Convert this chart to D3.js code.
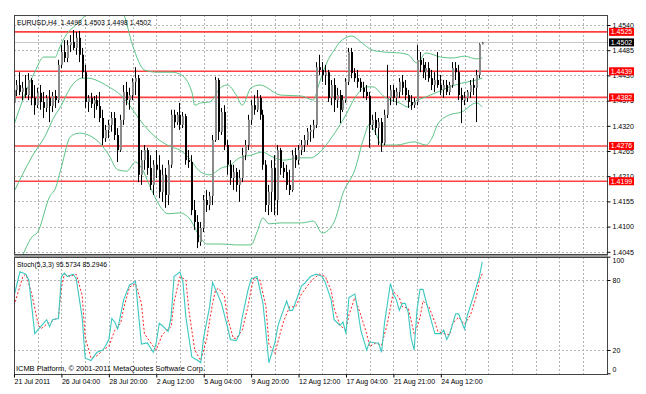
<!DOCTYPE html>
<html>
<head>
<meta charset="utf-8">
<script src="https://cdn.jsdelivr.net/npm/d3@7"></script>
<style>
  body { margin: 0; background: #fff; }
  svg text { font-family: 'Liberation Sans', Arial, sans-serif; font-size: 7px; fill: #000; }
</style>
</head>
<body>
<div id="chart"></div>
<script>
var width = 646
var height = 394
var left = 14
var right = 607
var mainTop = 15
var mainBottom = 254
var subTop = 257
var subBottom = 374

// EURUSD H4 candles
var opens = [1.4370,1.4398,1.4409,1.4394,1.4403,1.4387,1.4420,1.4381,1.4365,1.4392,
  1.4372,1.4359,1.4381,1.4363,1.4385,1.4376,1.4453,1.4481,1.4468,1.4496,
  1.4503,1.4490,1.4512,1.4475,1.4437,1.4372,1.4381,1.4368,1.4376,1.4363,
  1.4337,1.4293,1.4311,1.4322,1.4337,1.4300,1.4267,1.4333,1.4394,1.4376,
  1.4387,1.4416,1.4424,1.4213,1.4245,1.4267,1.4228,1.4191,1.4235,1.4224,
  1.4176,1.4213,1.4169,1.4235,1.4344,1.4328,1.4344,1.4322,1.4341,1.4245,
  1.4241,1.4136,1.4110,1.4066,1.4097,1.4158,1.4147,1.4167,1.4289,1.4420,
  1.4307,1.4350,1.4278,1.4235,1.4206,1.4219,1.4191,1.4206,1.4256,1.4278,
  1.4333,1.4365,1.4355,1.4381,1.4344,1.4235,1.4147,1.4176,1.4228,1.4158,
  1.4267,1.4228,1.4219,1.4191,1.4180,1.4256,1.4245,1.4267,1.4278,1.4289,
  1.4307,1.4311,1.4322,1.4448,1.4442,1.4431,1.4437,1.4381,1.4409,1.4376,
  1.4387,1.4355,1.4376,1.4416,1.4481,1.4435,1.4424,1.4416,1.4403,1.4394,
  1.4385,1.4322,1.4333,1.4315,1.4328,1.4282,1.4344,1.4381,1.4398,1.4381,
  1.4394,1.4416,1.4403,1.4387,1.4372,1.4365,1.4372,1.4464,1.4453,1.4437,
  1.4446,1.4424,1.4409,1.4420,1.4409,1.4398,1.4409,1.4394,1.4409,1.4446,
  1.4437,1.4387,1.4376,1.4381,1.4394,1.4409,1.4403,1.4431,1.4498]
var highs = [1.4407,1.4420,1.4437,1.4416,1.4431,1.4435,1.4424,1.4409,1.4403,1.4409,
  1.4394,1.4387,1.4398,1.4394,1.4398,1.4464,1.4496,1.4507,1.4507,1.4518,
  1.4529,1.4525,1.4527,1.4490,1.4453,1.4387,1.4392,1.4385,1.4387,1.4394,
  1.4355,1.4322,1.4333,1.4350,1.4350,1.4315,1.4344,1.4409,1.4416,1.4403,
  1.4424,1.4448,1.4431,1.4267,1.4278,1.4272,1.4256,1.4245,1.4267,1.4256,
  1.4235,1.4228,1.4245,1.4355,1.4355,1.4350,1.4370,1.4350,1.4346,1.4267,
  1.4256,1.4158,1.4125,1.4110,1.4169,1.4180,1.4176,1.4300,1.4427,1.4424,
  1.4359,1.4365,1.4289,1.4245,1.4235,1.4228,1.4224,1.4272,1.4289,1.4344,
  1.4376,1.4387,1.4398,1.4387,1.4355,1.4245,1.4191,1.4245,1.4256,1.4278,
  1.4272,1.4241,1.4235,1.4224,1.4267,1.4272,1.4278,1.4289,1.4300,1.4315,
  1.4322,1.4333,1.4459,1.4475,1.4459,1.4453,1.4442,1.4420,1.4424,1.4403,
  1.4398,1.4387,1.4424,1.4490,1.4490,1.4446,1.4442,1.4424,1.4416,1.4409,
  1.4394,1.4344,1.4350,1.4337,1.4337,1.4355,1.4453,1.4409,1.4409,1.4403,
  1.4424,1.4431,1.4420,1.4398,1.4387,1.4381,1.4496,1.4481,1.4468,1.4459,
  1.4459,1.4442,1.4437,1.4481,1.4431,1.4420,1.4420,1.4416,1.4459,1.4459,
  1.4453,1.4403,1.4394,1.4398,1.4420,1.4424,1.4442,1.4500,1.4503]
var lows = [1.4355,1.4385,1.4387,1.4376,1.4381,1.4376,1.4365,1.4344,1.4359,1.4355,
  1.4337,1.4350,1.4328,1.4350,1.4359,1.4370,1.4446,1.4459,1.4459,1.4481,
  1.4485,1.4475,1.4459,1.4424,1.4359,1.4350,1.4359,1.4337,1.4355,1.4328,
  1.4278,1.4285,1.4293,1.4307,1.4289,1.4241,1.4263,1.4322,1.4365,1.4355,
  1.4376,1.4387,1.4197,1.4191,1.4224,1.4213,1.4180,1.4169,1.4206,1.4162,
  1.4154,1.4141,1.4147,1.4228,1.4315,1.4322,1.4311,1.4315,1.4235,1.4228,
  1.4125,1.4093,1.4053,1.4058,1.4088,1.4132,1.4136,1.4147,1.4285,1.4289,
  1.4300,1.4267,1.4213,1.4191,1.4180,1.4176,1.4154,1.4197,1.4245,1.4267,
  1.4322,1.4344,1.4350,1.4333,1.4224,1.4132,1.4125,1.4132,1.4125,1.4125,
  1.4213,1.4206,1.4180,1.4169,1.4176,1.4228,1.4235,1.4256,1.4263,1.4278,
  1.4285,1.4293,1.4315,1.4431,1.4416,1.4409,1.4372,1.4365,1.4350,1.4359,
  1.4326,1.4350,1.4370,1.4409,1.4424,1.4416,1.4403,1.4394,1.4381,1.4376,
  1.4272,1.4311,1.4300,1.4278,1.4263,1.4278,1.4337,1.4365,1.4372,1.4365,
  1.4381,1.4387,1.4376,1.4359,1.4355,1.4359,1.4365,1.4437,1.4424,1.4420,
  1.4416,1.4398,1.4394,1.4403,1.4387,1.4381,1.4387,1.4387,1.4403,1.4420,
  1.4376,1.4326,1.4365,1.4372,1.4381,1.4387,1.4328,1.4424,1.4498]
var closes = [1.4398,1.4409,1.4394,1.4403,1.4387,1.4420,1.4381,1.4365,1.4392,1.4372,
  1.4359,1.4381,1.4363,1.4385,1.4376,1.4453,1.4481,1.4468,1.4496,1.4503,
  1.4490,1.4512,1.4475,1.4437,1.4372,1.4381,1.4368,1.4376,1.4363,1.4337,
  1.4293,1.4311,1.4322,1.4337,1.4300,1.4267,1.4333,1.4394,1.4376,1.4387,
  1.4416,1.4424,1.4213,1.4245,1.4267,1.4228,1.4191,1.4235,1.4224,1.4176,
  1.4213,1.4169,1.4235,1.4344,1.4328,1.4344,1.4322,1.4341,1.4245,1.4241,
  1.4136,1.4110,1.4066,1.4097,1.4158,1.4147,1.4167,1.4289,1.4420,1.4307,
  1.4350,1.4278,1.4235,1.4206,1.4219,1.4191,1.4206,1.4256,1.4278,1.4333,
  1.4365,1.4355,1.4381,1.4344,1.4235,1.4147,1.4176,1.4228,1.4158,1.4267,
  1.4228,1.4219,1.4191,1.4180,1.4256,1.4245,1.4267,1.4278,1.4289,1.4307,
  1.4311,1.4322,1.4448,1.4442,1.4431,1.4437,1.4381,1.4409,1.4376,1.4387,
  1.4355,1.4376,1.4416,1.4481,1.4435,1.4424,1.4416,1.4403,1.4394,1.4385,
  1.4322,1.4333,1.4315,1.4328,1.4282,1.4344,1.4381,1.4398,1.4381,1.4394,
  1.4416,1.4403,1.4387,1.4372,1.4365,1.4372,1.4464,1.4453,1.4437,1.4446,
  1.4424,1.4409,1.4420,1.4409,1.4398,1.4409,1.4394,1.4409,1.4446,1.4437,
  1.4387,1.4376,1.4381,1.4394,1.4409,1.4403,1.4431,1.4498,1.4502]

// Bollinger bands (bar index, price)
var upperBars = [0,4,7,10,14,15,17,22,25,27,31,34,37,40,44,48,53,56,60,61,63,66,70,72,75,77,80,83,90,97,101,103,106,108,110,114,117,121,125,130,133,136,139,144,148,152,156,158]
var upperBand = [1.4322,1.4394,1.4437,1.4470,1.4470,1.4485,1.4512,1.4547,1.4568,1.4584,1.4595,1.4588,1.4564,1.4496,1.4442,1.4437,1.4437,1.4433,1.4394,1.4365,1.4370,1.4372,1.4405,1.4409,1.4387,1.4365,1.4403,1.4409,1.4387,1.4385,1.4376,1.4413,1.4464,1.4485,1.4503,1.4516,1.4503,1.4485,1.4481,1.4479,1.4475,1.4457,1.4479,1.4470,1.4468,1.4472,1.4466,1.4468]
var midBars = [0,6,11,13,16,19,23,25,29,32,36,39,42,46,49,53,56,59,63,66,70,73,76,80,84,86,91,96,100,103,107,112,115,119,121,125,130,133,135,139,143,147,151,156,158]
var midBand = [1.4176,1.4252,1.4304,1.4333,1.4365,1.4403,1.4424,1.4424,1.4416,1.4405,1.4387,1.4365,1.4337,1.4306,1.4289,1.4274,1.4267,1.4250,1.4219,1.4213,1.4228,1.4234,1.4250,1.4256,1.4263,1.4256,1.4245,1.4250,1.4250,1.4261,1.4293,1.4344,1.4381,1.4405,1.4405,1.4383,1.4370,1.4361,1.4372,1.4383,1.4394,1.4405,1.4413,1.4420,1.4424]
var lowBars = [0,3,6,8,12,14,16,19,22,25,27,29,32,35,38,41,43,46,49,52,56,59,63,65,70,75,80,82,84,86,90,97,101,104,108,111,115,118,120,122,124,129,135,139,141,143,147,151,156,158]
var lowBand = [1.3990,1.4038,1.4077,1.4088,1.4165,1.4184,1.4230,1.4296,1.4304,1.4300,1.4293,1.4282,1.4256,1.4224,1.4221,1.4241,1.4228,1.4186,1.4147,1.4128,1.4130,1.4119,1.4075,1.4062,1.4062,1.4060,1.4060,1.4088,1.4119,1.4106,1.4108,1.4108,1.4112,1.4086,1.4110,1.4173,1.4224,1.4293,1.4324,1.4304,1.4278,1.4278,1.4285,1.4278,1.4293,1.4324,1.4344,1.4350,1.4370,1.4361]

// Stochastic(5,3,3)
var mainBars = [0,2,4,5,7,9,11,12,13,15,16,17,18,20,21,23,24,26,28,30,31,32,33,34,35,37,39,40,41,42,43,45,47,48,49,50,52,53,54,56,57,58,60,62,63,64,66,67,68,70,72,73,75,76,77,78,79,80,81,82,84,85,86,88,89,90,92,93,94,96,97,98,100,102,104,105,107,108,110,111,112,113,115,116,117,119,120,122,123,124,125,127,128,129,130,131,132,133,134,135,136,137,138,139,141,142,144,145,146,147,149,150,152,153,155,157,158]
var mainVals = [66,87,85,80,34,40,46,40,46,47,83,86,83,85,81,48,13,11,18,20,24,29,47,44,38,63,76,77,79,51,25,26,18,26,43,41,36,48,83,87,78,48,14,11,9,31,57,78,72,60,40,29,28,33,48,60,72,81,82,83,60,35,9,26,40,48,62,54,54,68,75,77,83,85,83,78,63,46,41,44,34,65,68,54,37,20,27,26,26,18,43,77,68,63,54,60,60,52,30,20,55,72,72,62,43,34,34,37,29,34,51,51,38,50,66,83,95.5734]
var sigBars = [0,3,4,6,8,9,11,13,15,16,17,19,21,23,24,26,28,30,32,34,36,37,39,41,43,44,47,48,50,52,53,54,56,58,59,61,63,64,65,66,67,68,69,71,72,74,75,77,79,80,81,83,85,86,88,90,91,93,95,97,99,101,103,105,107,108,110,112,113,115,117,119,120,122,124,126,128,130,131,133,135,136,137,138,140,142,143,145,147,148,150,152,154,156,157,158]
var sigVals = [58,83,85,68,44,38,42,45,48,74,85,83,85,67,31,13,15,20,23,37,43,56,74,77,60,34,23,20,33,38,40,61,83,80,54,20,11,20,29,45,60,71,73,66,48,30,30,37,58,72,82,80,57,25,17,36,45,57,57,68,75,81,85,83,71,56,41,37,50,65,50,34,23,26,24,43,70,65,57,56,34,40,48,62,57,44,36,34,33,43,48,42,50,66,80,85.2946]

var timeLabels = ['21 Jul 2011', '26 Jul 04:00', '28 Jul 20:00', '2 Aug 12:00', '5 Aug 04:00',
  '9 Aug 20:00', '12 Aug 12:00', '17 Aug 04:00', '21 Aug 21:00', '24 Aug 12:00']
var priceTicks = [1.4045, 1.4100, 1.4155, 1.4210, 1.4265, 1.4320, 1.4375, 1.4430, 1.4485, 1.4540]
var stochTicks = [0, 20, 80, 100]
var levels = [1.4525, 1.4439, 1.4382, 1.4276, 1.4199]
var bid = 1.4502
var header = 'EURUSD,H4  1.4498 1.4503 1.4498 1.4502'
var stochTitle = 'Stoch(5,3,3) 95.5734 85.2946'
var copyright = 'ICMB Platform, \u00a9 2001-2011 MetaQuotes Software Corp.'

var svg = d3.select('#chart').append('svg')
  .attr('width', width)
  .attr('height', height)

var x = d3.scaleLinear().domain([0, 158]).range([14, 482.3])
var y = d3.scaleLinear().domain([1.4045, 1.4540]).range([251.8, 25])
var ys = d3.scaleLinear().domain([0, 100]).range([373.3, 256.7])

var defs = svg.append('defs')
defs.append('clipPath').attr('id', 'clip-main')
  .append('rect').attr('x', left).attr('y', mainTop).attr('width', right - left).attr('height', mainBottom - mainTop)
defs.append('clipPath').attr('id', 'clip-sub')
  .append('rect').attr('x', left).attr('y', subTop).attr('width', right - left).attr('height', subBottom - subTop)

// grid, every 8 bars across both windows
var gridBars = d3.range(8, 201, 8)
var grid = svg.append('g').attr('stroke', '#b4b4b4').attr('stroke-dasharray', '2,2')
grid.selectAll('.vm').data(gridBars).join('line')
  .attr('x1', d => Math.round(x(d)) + 0.5).attr('x2', d => Math.round(x(d)) + 0.5)
  .attr('y1', mainTop).attr('y2', mainBottom)
grid.selectAll('.vs').data(gridBars).join('line')
  .attr('x1', d => Math.round(x(d)) + 0.5).attr('x2', d => Math.round(x(d)) + 0.5)
  .attr('y1', subTop).attr('y2', subBottom)
grid.selectAll('.hm').data(priceTicks).join('line')
  .attr('x1', left).attr('x2', right)
  .attr('y1', d => Math.round(y(d)) + 0.5).attr('y2', d => Math.round(y(d)) + 0.5)
grid.selectAll('.hs').data([20, 80]).join('line')
  .attr('x1', left).attr('x2', right)
  .attr('y1', d => Math.round(ys(d)) + 0.5).attr('y2', d => Math.round(ys(d)) + 0.5)

var main = svg.append('g').attr('clip-path', 'url(#clip-main)')

// bid line
main.append('line')
  .attr('x1', left).attr('x2', right)
  .attr('y1', Math.round(y(bid)) + 0.5).attr('y2', Math.round(y(bid)) + 0.5)
  .attr('stroke', '#c8c8c8')

// horizontal levels
main.selectAll('.level').data(levels).join('line')
  .attr('x1', left).attr('x2', right)
  .attr('y1', d => y(d)).attr('y2', d => y(d))
  .attr('stroke', '#ff4040').attr('stroke-width', 1.6)

// bollinger bands
var bandLine = d3.line()
  .x(d => x(d[0]))
  .y(d => y(d[1]))
  .curve(d3.curveMonotoneX)
main.selectAll('.band')
  .data([d3.zip(upperBars, upperBand), d3.zip(midBars, midBand), d3.zip(lowBars, lowBand)])
  .join('path')
  .attr('d', bandLine)
  .attr('fill', 'none')
  .attr('stroke', '#5cc486')
  .attr('stroke-width', 1)

// candles
var candles = main.append('g').selectAll('g').data(d3.range(opens.length)).join('g')
candles.append('line')
  .attr('x1', i => Math.floor(x(i)) + 0.5).attr('x2', i => Math.floor(x(i)) + 0.5)
  .attr('y1', i => y(highs[i])).attr('y2', i => y(lows[i]))
  .attr('stroke', '#000')
candles.append('rect')
  .attr('x', i => Math.floor(x(i)))
  .attr('width', 2)
  .attr('y', i => y(Math.max(opens[i], closes[i])))
  .attr('height', i => Math.max(1, Math.abs(y(opens[i]) - y(closes[i]))))
  .attr('fill', i => closes[i] >= opens[i] ? '#8a8a8a' : '#000')

// stochastic
var sub = svg.append('g').attr('clip-path', 'url(#clip-sub)')
var stochLine = d3.line().x(d => x(d[0])).y(d => ys(d[1]))
sub.append('path')
  .attr('d', stochLine(d3.zip(sigBars, sigVals)))
  .attr('fill', 'none').attr('stroke', '#ff2020').attr('stroke-dasharray', '2,2')
sub.append('path')
  .attr('d', stochLine(d3.zip(mainBars, mainVals)))
  .attr('fill', 'none').attr('stroke', '#3cc8c0').attr('stroke-width', 1.1)

// frames
var frame = svg.append('g').attr('fill', 'none').attr('stroke', '#444')
frame.append('rect').attr('x', left + 0.5).attr('y', mainTop + 0.5).attr('width', right - left).attr('height', mainBottom - mainTop)
frame.append('rect').attr('x', left + 0.5).attr('y', subTop + 0.5).attr('width', right - left).attr('height', subBottom - subTop)
svg.append('rect').attr('x', left).attr('y', mainBottom + 1).attr('width', right - left + 1).attr('height', subTop - mainBottom - 1)
  .attr('fill', '#9a9a9a')

// price axis
var priceAxis = svg.append('g')
  .attr('transform', `translate(${right + 0.5},0)`)
  .call(d3.axisRight(y).tickValues(priceTicks).tickFormat(d3.format('.4f')).tickSize(3).tickPadding(2))
priceAxis.select('.domain').remove()
priceAxis.selectAll('text').attr('font-size', 7).attr('font-family', null)

var stochAxis = svg.append('g')
  .attr('transform', `translate(${right + 0.5},0)`)
  .call(d3.axisRight(ys).tickValues(stochTicks).tickSize(3).tickPadding(2))
stochAxis.select('.domain').remove()
stochAxis.selectAll('text').attr('font-size', 7).attr('font-family', null)
  .attr('dy', d => d === 100 ? '0.9em' : d === 0 ? '-0.25em' : '0.32em')

var timeAxis = svg.append('g')
  .attr('transform', `translate(0,${subBottom + 0.5})`)
  .call(d3.axisBottom(x).tickValues(timeLabels.map((d, i) => i * 16)).tickFormat((d, i) => timeLabels[i]).tickSize(3).tickPadding(2))
timeAxis.select('.domain').remove()
timeAxis.selectAll('text').attr('text-anchor', 'start').attr('font-size', 7).attr('font-family', null)

// level tags on the price scale
var tags = svg.append('g').selectAll('g').data(levels).join('g')
  .attr('transform', d => `translate(609,${y(d)})`)
tags.append('rect').attr('x', 0).attr('y', -4).attr('width', 25).attr('height', 8).attr('fill', '#ff0000')
tags.append('text').attr('x', 12.5).attr('y', 2.5).attr('text-anchor', 'middle')
  .style('fill', '#fff').text(d => d3.format('.4f')(d))

var bidTag = svg.append('g').attr('transform', `translate(609,${y(bid)})`)
bidTag.append('rect').attr('x', 0).attr('y', -4).attr('width', 25).attr('height', 8).attr('fill', '#000')
bidTag.append('text').attr('x', 12.5).attr('y', 2.5).attr('text-anchor', 'middle')
  .style('fill', '#fff').text(d3.format('.4f')(bid))

// texts
svg.append('text').attr('x', 17).attr('y', 24.5).attr('textLength', 134).attr('lengthAdjust', 'spacingAndGlyphs')
  .attr('xml:space', 'preserve').text(header)
svg.append('text').attr('x', 17).attr('y', 266.5).attr('textLength', 90).attr('lengthAdjust', 'spacingAndGlyphs')
  .text(stochTitle)
svg.append('text').attr('x', 16).attr('y', 370.5).attr('textLength', 189).attr('lengthAdjust', 'spacingAndGlyphs')
  .text(copyright)
</script>
</body>
</html>
